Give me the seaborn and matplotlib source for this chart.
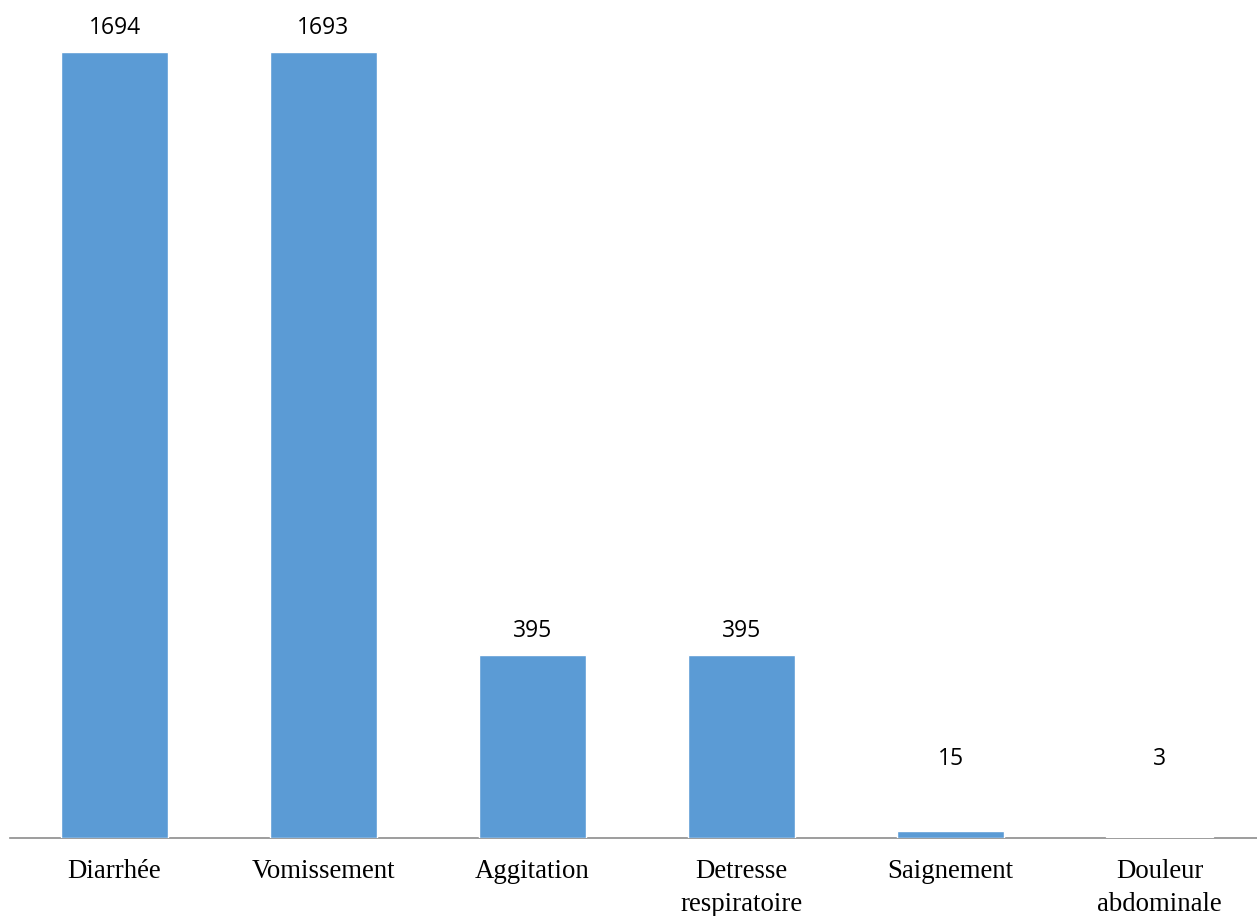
import pandas as pd
import matplotlib
matplotlib.use('Agg')
import matplotlib.pyplot as plt
import seaborn as sns

# Données du graphique
categories = ['Diarrhée', 'Vomissement', 'Aggitation', 'Detresse\nrespiratoire',
              'Saignement', 'Douleur\nabdominale']
effectifs = [1694, 1693, 395, 395, 15, 3]

df = pd.DataFrame({'symptome': categories, 'effectif': effectifs})

sns.set_style('white')

fig = plt.figure(figsize=(12.57, 9.16), dpi=100)
ax = fig.add_axes([10 / 1257, 78 / 916, 1254 / 1257, 838 / 916])

sns.barplot(data=df, x='symptome', y='effectif', color='#5B9BD5',
            width=0.51, saturation=1, ax=ax)

ax.set_ylim(0, 1806)
ax.set_xlim(-0.5, len(categories) - 0.5)

# Étiquettes de valeurs au-dessus des barres
for i, v in enumerate(effectifs):
    ax.text(i, max(v + 52, 170), str(v), ha='center', va='center',
            fontsize=16.5, family=['Open Sans', 'DejaVu Sans'], color='black')

# Axes
for s in ['top', 'right', 'left']:
    ax.spines[s].set_visible(False)
ax.spines['bottom'].set_color('#8c8c8c')
ax.spines['bottom'].set_linewidth(1.2)
ax.spines['bottom'].set_zorder(0.5)
ax.set_yticks([])
ax.set_xlabel('')
ax.set_ylabel('')
ax.tick_params(axis='x', length=0, pad=15)
for lbl in ax.get_xticklabels():
    lbl.set_family(['Liberation Serif', 'DejaVu Serif'])
    lbl.set_fontsize(19.3)
    lbl.set_linespacing(1.42)
    lbl.set_color('black')

fig.savefig('out.png', dpi=100)
